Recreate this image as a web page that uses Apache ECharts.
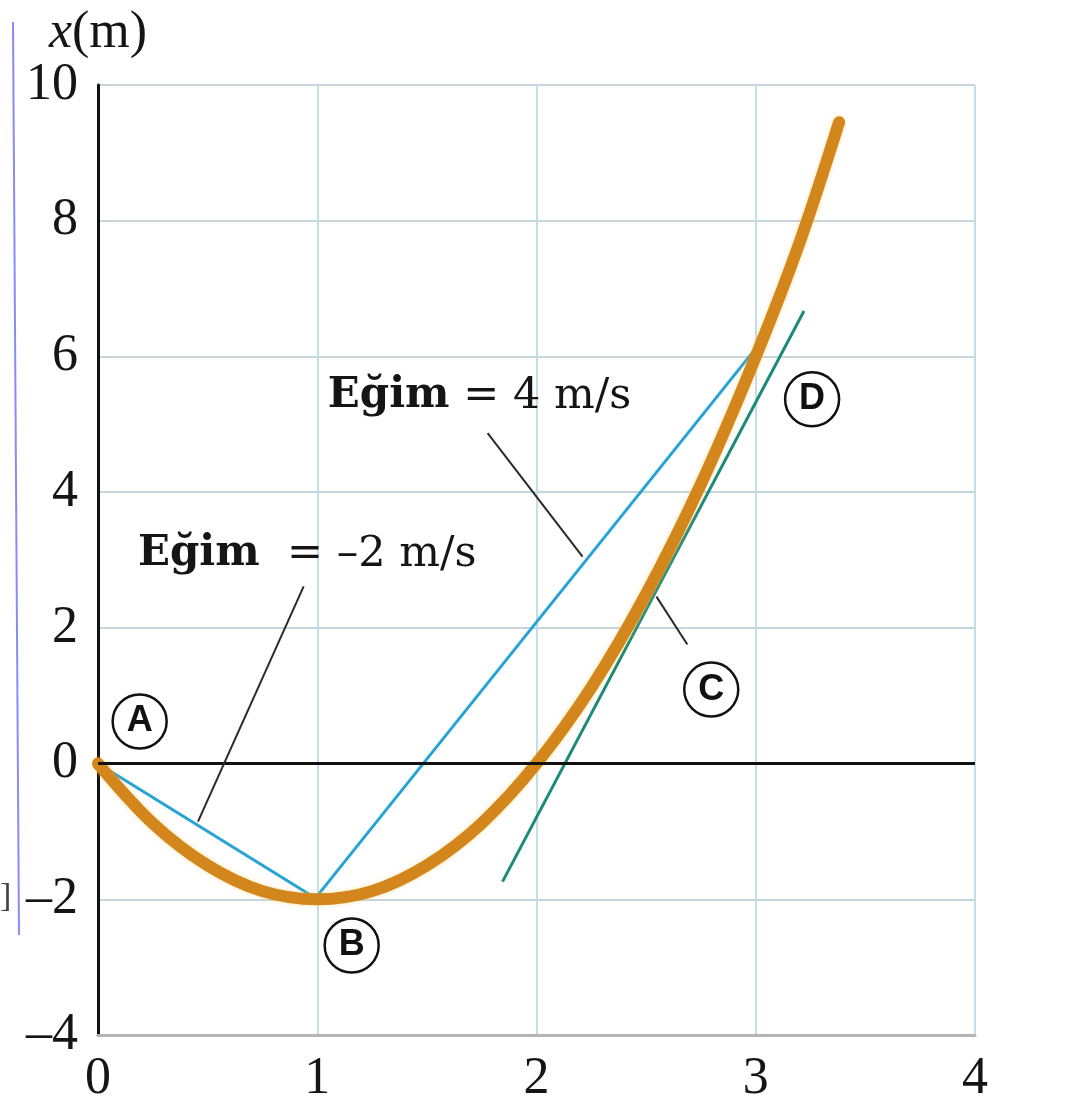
<!DOCTYPE html>
<html>
<head>
<meta charset="utf-8">
<script src="https://cdn.jsdelivr.net/npm/echarts@6/dist/echarts.min.js"></script>
<style>
  html, body { margin: 0; padding: 0; background: #fff; }
  #chart { width: 1084px; height: 1105px; }
</style>
</head>
<body>
<div id="chart"></div>
<script>
// Position x(t) of the particle, sampled along the curve
const curveT = [0, 0.25, 0.5, 0.75, 1, 1.25, 1.5, 1.75, 2, 2.25, 2.5, 2.75, 3, 3.2, 3.38];
const curveX = [0, -0.88, -1.5, -1.88, -2, -1.88, -1.5, -0.88, 0, 1.12, 2.5, 4.12, 6, 7.68, 9.45];

// Chord A→B (average velocity −2 m/s)
const chordAB_T = [0, 1];
const chordAB_X = [0, -2];
// Chord B→D (average velocity 4 m/s)
const chordBD_T = [1, 3.02];
const chordBD_X = [-1.95, 6.2];
// Tangent near C
const tangentT = [1.845, 3.22];
const tangentX = [-1.74, 6.67];

// Leader lines from the labels to the lines they describe
const leader4T = [1.777, 2.21];
const leader4X = [4.87, 3.05];
const leader2T = [0.938, 0.456];
const leader2X = [2.61, -0.855];
const leaderCT = [2.547, 2.688];
const leaderCX = [2.46, 1.755];

// Circled point markers
const pointNames = ['A', 'B', 'C', 'D'];
const pointT = [0.19, 1.157, 2.797, 3.257];
const pointX = [0.62, -2.68, 1.09, 5.37];

// Axis ranges
const tRange = [0, 4];
const xRange = [-4, 10];
const tStep = 1;
const xStep = 2;

const pairs = (a, b) => a.map((v, i) => [v, b[i]]);

const SERIF = '"Liberation Serif", "DejaVu Serif", serif';
const WIDE_SERIF = '"DejaVu Serif", "Liberation Serif", serif';
const INK = '#151515';

const chart = echarts.init(document.getElementById('chart'), null, { renderer: 'canvas' });

const leaderStyle = { color: '#2a2a2a', width: 2 };

chart.setOption({
  animation: false,
  backgroundColor: '#ffffff',
  grid: { left: 98, right: 109, top: 85, bottom: 70, containLabel: false },
  xAxis: {
    type: 'value',
    min: tRange[0], max: tRange[1], interval: tStep,
    axisLine: { show: true, onZero: false, lineStyle: { color: '#b4b4b4', width: 3 } },
    axisTick: { show: false },
    axisLabel: { color: INK, fontFamily: SERIF, fontSize: 52, margin: 18 },
    splitLine: { show: true, lineStyle: { color: '#c3dee6', width: 2 } }
  },
  yAxis: {
    type: 'value',
    min: xRange[0], max: xRange[1], interval: xStep,
    name: '{i|x}{r|(m)}',
    nameLocation: 'end',
    nameGap: 26,
    nameTextStyle: {
      rich: {
        i: { fontFamily: SERIF, fontStyle: 'italic', fontSize: 52, color: INK },
        r: { fontFamily: SERIF, fontSize: 52, color: INK }
      }
    },
    axisLine: { show: true, onZero: false, lineStyle: { color: '#111', width: 3 } },
    axisTick: { show: false },
    axisLabel: {
      color: INK, fontFamily: SERIF, fontSize: 52, margin: 20,
      formatter: v => String(v).replace('-', '\u2013')
    },
    splitLine: { show: true, lineStyle: { color: '#c6d6da', width: 2 } }
  },
  graphic: [
    { type: 'line', shape: { x1: 13, y1: 22, x2: 19, y2: 935 },
      style: { stroke: '#8a8cf5', lineWidth: 2 }, z: 10 },
    { type: 'text', left: 0, top: 880,
      style: { text: ']', font: '34px ' + SERIF, fill: '#444' } }
  ],
  series: [
    {
      // t axis drawn at x = 0
      type: 'line', data: [], silent: true,
      markLine: {
        symbol: ['none', 'none'], silent: true, label: { show: false },
        lineStyle: { color: '#111', width: 3, type: 'solid' },
        data: [{ yAxis: 0 }]
      }
    },
    {
      name: 'chordAB', type: 'line', data: pairs(chordAB_T, chordAB_X),
      symbol: 'none', lineStyle: { color: '#27a3d4', width: 3 }, z: 3
    },
    {
      name: 'chordBD', type: 'line', data: pairs(chordBD_T, chordBD_X),
      symbol: 'none', lineStyle: { color: '#27a3d4', width: 3 }, z: 3
    },
    {
      name: 'tangent', type: 'line', data: pairs(tangentT, tangentX),
      symbol: 'none', lineStyle: { color: '#1d8a78', width: 3 }, z: 3
    },
    {
      name: 'x(t)', type: 'line', data: pairs(curveT, curveX),
      symbol: 'none', smooth: 0.35,
      lineStyle: { color: '#d3861c', width: 12, cap: 'round',
                   shadowColor: 'rgba(255,200,80,0.5)', shadowBlur: 4 },
      z: 4
    },
    {
      type: 'line', data: pairs(leader4T, leader4X), symbol: 'none',
      lineStyle: leaderStyle, z: 5
    },
    {
      type: 'line', data: pairs(leader2T, leader2X), symbol: 'none',
      lineStyle: leaderStyle, z: 5
    },
    {
      type: 'line', data: pairs(leaderCT, leaderCX), symbol: 'none',
      lineStyle: leaderStyle, z: 5
    },
    {
      // Circled point letters
      type: 'scatter', z: 6,
      data: pointNames.map((n, i) => ({ value: [pointT[i], pointX[i]], name: n })),
      symbol: 'circle', symbolSize: 54,
      itemStyle: { color: '#ffffff', borderColor: '#111', borderWidth: 2.5, opacity: 1 },
      label: {
        show: true, position: 'inside', formatter: p => p.name,
        fontFamily: '"Liberation Sans", "DejaVu Sans", sans-serif',
        fontWeight: 'bold', fontSize: 36, color: '#111'
      }
    },
    {
      // Text annotations
      type: 'scatter', z: 7, symbolSize: 0,
      itemStyle: { opacity: 1 },
      data: [
        { value: [1.048, 5.41], label: { formatter: '{b|Eğim}{r| = 4 m/s}' } },
        { value: [0.182, 3.08], label: { formatter: '{b|Eğim}{r|  = \u20132 m/s}' } },
        { value: [4.09, -0.05], label: { formatter: '{i|t}{s|(s)}' } }
      ],
      label: {
        show: true, position: [0, 0], align: 'left', verticalAlign: 'middle',
        rich: {
          b: { fontFamily: WIDE_SERIF, fontWeight: 'bold', fontSize: 42, color: INK },
          r: { fontFamily: WIDE_SERIF, fontSize: 43, color: INK },
          i: { fontFamily: SERIF, fontStyle: 'italic', fontSize: 50, color: INK },
          s: { fontFamily: SERIF, fontSize: 50, color: INK }
        }
      }
    }
  ]
});
</script>
</body>
</html>
